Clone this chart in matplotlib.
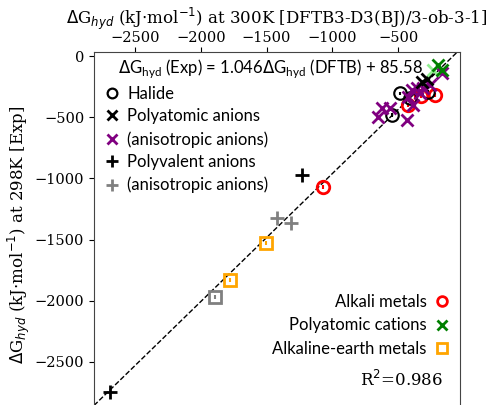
import numpy as np
import matplotlib
matplotlib.use("Agg")
import matplotlib.pyplot as plt
from matplotlib.lines import Line2D

plt.rcParams['font.family'] = 'DejaVu Serif'

# DFTB (x) vs experiment (y), kJ/mol
halide_x = [-547, -486, -410, -273]
halide_y = [-482, -305, -345, -294]

polyat_x = [-319, -280]
polyat_y = [-212, -190]

aniso_x = [-623, -653, -562, -433, -387, -395, -357, -334, -311, -425, -258, -167]
aniso_y = [-425, -498, -425, -523, -400, -278, -261, -302, -261, -335, -237, -139]

polyval_x = [-2690, -1231]
polyval_y = [-2745, -972]

polyval_an_x = [-1421, -1314]
polyval_an_y = [-1324, -1364]

alkali_x = [-1071, -425, -330, -220]
alkali_y = [-1070, -400, -330, -319]

cation_x = [-197, -167]
cation_y = [-74, -114]
cation_an_x = [-235]
cation_an_y = [-114]

earth_x = [-1778, -1504]
earth_y = [-1830, -1528]
earth_an_x = [-1892]
earth_an_y = [-1969]

slope, intercept = 1.046, 85.58

fig = plt.figure(figsize=(4.91, 4.05), dpi=100)
ax = fig.add_axes([0.1914, -0.0321, 0.7454, 0.9037])

xl = (-2812, -30)
yl = (-2958, 33)
xx = np.array(xl)
ax.plot(xx, slope * xx + intercept, 'k--', lw=1, zorder=1)

ms = 9
mew = 2
ax.errorbar(alkali_x, alkali_y, yerr=15, fmt='o', ms=ms, mfc='none', mec='red', mew=mew,
            ecolor='red', elinewidth=1.5, zorder=3)
ax.errorbar(halide_x, halide_y, yerr=15, fmt='o', ms=ms, mfc='none', mec='black', mew=mew / 1.3,
            ecolor='black', elinewidth=1.5, zorder=3)
ax.plot(aniso_x, aniso_y, 'x', ms=ms, color='purple', mew=mew, zorder=4)
ax.plot(polyat_x, polyat_y, 'x', ms=ms, color='black', mew=mew, zorder=5)
ax.plot(cation_an_x, cation_an_y, 'x', ms=ms, color='lightgreen', mew=mew, zorder=5)
ax.plot(cation_x, cation_y, 'x', ms=ms, color='green', mew=mew, zorder=5)
ax.plot(polyval_x, polyval_y, '+', ms=ms + 1, color='black', mew=mew, zorder=5)
ax.plot(polyval_an_x, polyval_an_y, '+', ms=ms + 1, color='gray', mew=mew, zorder=5)
ax.errorbar(earth_x, earth_y, yerr=15, fmt='s', ms=ms, mfc='none', mec='orange', mew=mew,
            ecolor='orange', elinewidth=1.5, zorder=3)
ax.errorbar(earth_an_x, earth_an_y, yerr=15, fmt='s', ms=ms, mfc='none', mec='gray', mew=mew,
            ecolor='gray', elinewidth=1.5, zorder=3)

ax.set_xlim(xl)
ax.set_ylim(yl)
ax.xaxis.tick_top()
ax.xaxis.set_label_position('top')
ax.set_xticks([-2500, -2000, -1500, -1000, -500])
ax.set_yticks([0, -500, -1000, -1500, -2000, -2500])
ax.tick_params(labelsize=10.5)
ax.tick_params(axis='x', pad=1.5)
for s in ax.spines.values():
    s.set_color('#444444')
ax.set_xlabel(r'$\Delta$G$_{hyd}$ (kJ$\cdot$mol$^{-1}$) at 300K [DFTB3-D3(BJ)/3-ob-3-1]',
              fontsize=12, labelpad=5)
ax.set_ylabel(r'$\Delta$G$_{hyd}$ (kJ$\cdot$mol$^{-1}$) at 298K [Exp]', fontsize=12, labelpad=2)

sans = 'Lato'
ax.text(0.065, 0.955, r'$\Delta$G$_\mathregular{hyd}$ (Exp) = 1.046$\Delta$G$_\mathregular{hyd}$ (DFTB) + 85.58',
        transform=ax.transAxes, fontsize=12, family=sans, va='center', ha='left')

kw = dict(linestyle='none', ms=7, mew=2)
h_left = [
    Line2D([], [], marker='o', color='black', mfc='none', mew=1.6, ms=7, linestyle='none'),
    Line2D([], [], marker='x', color='black', **kw),
    Line2D([], [], marker='x', color='purple', **kw),
    Line2D([], [], marker='+', color='black', linestyle='none', ms=8, mew=2),
    Line2D([], [], marker='+', color='gray', linestyle='none', ms=8, mew=2),
]
l_left = ['Halide', 'Polyatomic anions', '(anisotropic anions)', 'Polyvalent anions',
          '(anisotropic anions)']
leg1 = ax.legend(h_left, l_left, loc='upper left', bbox_to_anchor=(0.0, 0.94), frameon=False,
                 prop={'family': sans, 'size': 12}, handlelength=0.8, handletextpad=0.5,
                 labelspacing=0.4, borderaxespad=0.3)
ax.add_artist(leg1)

h_right = [
    Line2D([], [], marker='o', color='red', mfc='none', **kw),
    Line2D([], [], marker='x', color='green', **kw),
    Line2D([], [], marker='s', color='orange', mfc='none', **kw),
]
l_right = ['Alkali metals', 'Polyatomic cations', 'Alkaline-earth metals']
ax.legend(h_right, l_right, loc='lower right', bbox_to_anchor=(1.0, 0.135), frameon=False,
          prop={'family': sans, 'size': 12}, handlelength=0.8, handletextpad=0.5,
          labelspacing=0.45, markerfirst=False, borderaxespad=0.3)

ax.text(0.955, 0.103, r'R$^2$=0.986', transform=ax.transAxes, fontsize=12, ha='right', va='center')

fig.savefig('out.png', dpi=100)
